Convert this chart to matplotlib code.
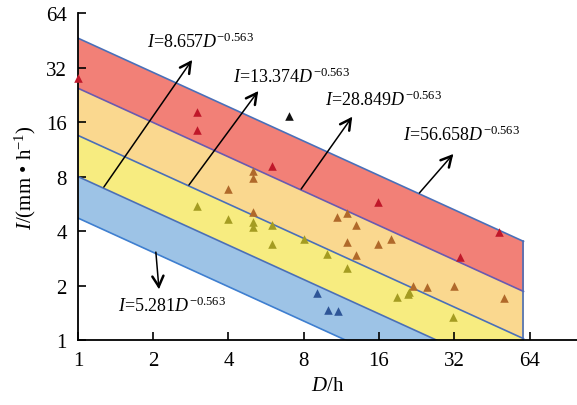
import numpy as np
import matplotlib
matplotlib.use('Agg')
import matplotlib.pyplot as plt
from matplotlib.ticker import FixedLocator, NullLocator

plt.rcParams['font.family'] = ['Liberation Serif', 'DejaVu Serif']
plt.rcParams['mathtext.fontset'] = 'custom'
plt.rcParams['mathtext.rm'] = 'Liberation Serif'
plt.rcParams['mathtext.it'] = 'Liberation Serif:italic'

# band boundaries as drawn: I = c * D^-slope, D from 1 to d_end
band_c = [4.72, 8.0, 13.5, 24.6, 46.5]
band_slope = 0.63
d_end = 60.5
band_colors = ['#9dc3e6', '#f7ec80', '#fad88f', '#f28077']
line_colors = ['#3f7fd0', '#4a6fb8', '#4a6fb8', '#6a5ab0', '#4a6fb8']

# observed points (duration h, intensity mm/h)
red_D = [1.0, 3.0, 3.0, 6.0, 15.9, 33.8, 48.5]
red_I = [28.0, 18.2, 14.4, 9.1, 5.8, 2.87, 3.95]
black_D = [7.0]
black_I = [17.3]
brown_D = [4.0, 5.0, 5.0, 5.0, 10.9, 11.9, 13.0, 11.9, 13.0, 15.9, 17.9, 21.9, 24.9, 32.0, 50.7]
brown_I = [6.8, 8.6, 7.9, 5.1, 4.8, 5.0, 4.3, 3.5, 2.95, 3.4, 3.6, 1.99, 1.96, 2.0, 1.71]
olive_D = [3.0, 4.0, 5.0, 5.0, 6.0, 6.0, 8.0, 9.9, 11.9, 18.9, 20.8, 21.1, 31.7]
olive_I = [5.5, 4.66, 4.5, 4.2, 4.3, 3.4, 3.6, 3.0, 2.5, 1.73, 1.8, 1.84, 1.34]
blue_D = [9.0, 10.0, 11.0]
blue_I = [1.82, 1.46, 1.45]

labels = ['$I$=5.281$D^{-0.563}$', '$I$=8.657$D^{-0.563}$', '$I$=13.374$D^{-0.563}$',
          '$I$=28.849$D^{-0.563}$', '$I$=56.658$D^{-0.563}$']

fig = plt.figure(figsize=(5.77, 4.06), dpi=100)
ax = fig.add_axes([0.135, 0.160, 0.865, 0.8055])
ax.set_xscale('log', base=2)
ax.set_yscale('log', base=2)
ax.set_xlim(1, 2 ** 6.63)
ax.set_ylim(1, 64)

D = np.linspace(1, d_end, 400)
curves = [c * D ** -band_slope for c in band_c]
for i in range(4):
    ax.fill_between(D, curves[i], curves[i + 1], color=band_colors[i], lw=0, zorder=1)
for i, cv in enumerate(curves):
    ax.plot(D, cv, color=line_colors[i], lw=1.2, zorder=2)
ax.plot([d_end, d_end], [1, curves[-1][-1]], color='#4a6fb8', lw=1.2, zorder=2)

ax.scatter(red_D, red_I, marker='^', s=38, color='#c0182a', lw=0, zorder=4, clip_on=False)
ax.scatter(black_D, black_I, marker='^', s=38, color='#111111', lw=0, zorder=4)
ax.scatter(brown_D, brown_I, marker='^', s=38, color='#b0692a', lw=0, zorder=4)
ax.scatter(olive_D, olive_I, marker='^', s=38, color='#a49c22', lw=0, zorder=4)
ax.scatter(blue_D, blue_I, marker='^', s=38, color='#2e5597', lw=0, zorder=4)

# label text positions and arrows
text_pos = [(1.45, 1.56), (1.89, 44.8), (4.17, 28.7), (9.75, 21.4), (20.0, 13.6)]
arrows = [((2.05, 3.06), (2.11, 1.91)), ((1.27, 7.0), (2.86, 35.2)), ((2.78, 7.18), (5.26, 23.7)),
          ((7.81, 6.82), (12.5, 17.1)), ((23.2, 6.49), (31.7, 10.65))]
inv = ax.transData.inverted()
for lab, (tx, ty), (a0, a1) in zip(labels, text_pos, arrows):
    ax.text(tx, ty, lab, fontsize=13, va='center', ha='left', zorder=5)
    ax.annotate('', xy=a1, xytext=a0,
                arrowprops=dict(arrowstyle='-', color='black', lw=1.1,
                                shrinkA=0, shrinkB=1), zorder=5)
    # short piece near the tip carries a bolder head
    p0 = ax.transData.transform(a0)
    p1 = ax.transData.transform(a1)
    d = (p1 - p0) / np.hypot(*(p1 - p0))
    hs = inv.transform(p1 - 4 * d)
    ax.annotate('', xy=a1, xytext=tuple(hs),
                arrowprops=dict(arrowstyle='->,head_length=0.75,head_width=0.4',
                                color='black', lw=1.8, shrinkA=0, shrinkB=0), zorder=5)

ax.xaxis.set_major_locator(FixedLocator([1, 2, 4, 8, 16, 32, 64]))
ax.yaxis.set_major_locator(FixedLocator([1, 2, 4, 8, 16, 32, 64]))
ax.xaxis.set_minor_locator(NullLocator())
ax.yaxis.set_minor_locator(NullLocator())
ax.set_xticklabels(['1', '2', '4', '8', '16', '32', '64'])
ax.set_yticklabels(['1', '2', '4', '8', '16', '32', '64'])
ax.tick_params(direction='in', length=6, width=1.2, labelsize=15, pad=8)
for s in ['top', 'right']:
    ax.spines[s].set_visible(False)
for s in ['left', 'bottom']:
    ax.spines[s].set_linewidth(1.3)

ax.set_xlabel('$D$/h', fontsize=15, labelpad=4)
ax.set_ylabel('$I$/(mm • h$^{-1}$)', fontsize=15, labelpad=6)

fig.savefig('out.png', dpi=100)
